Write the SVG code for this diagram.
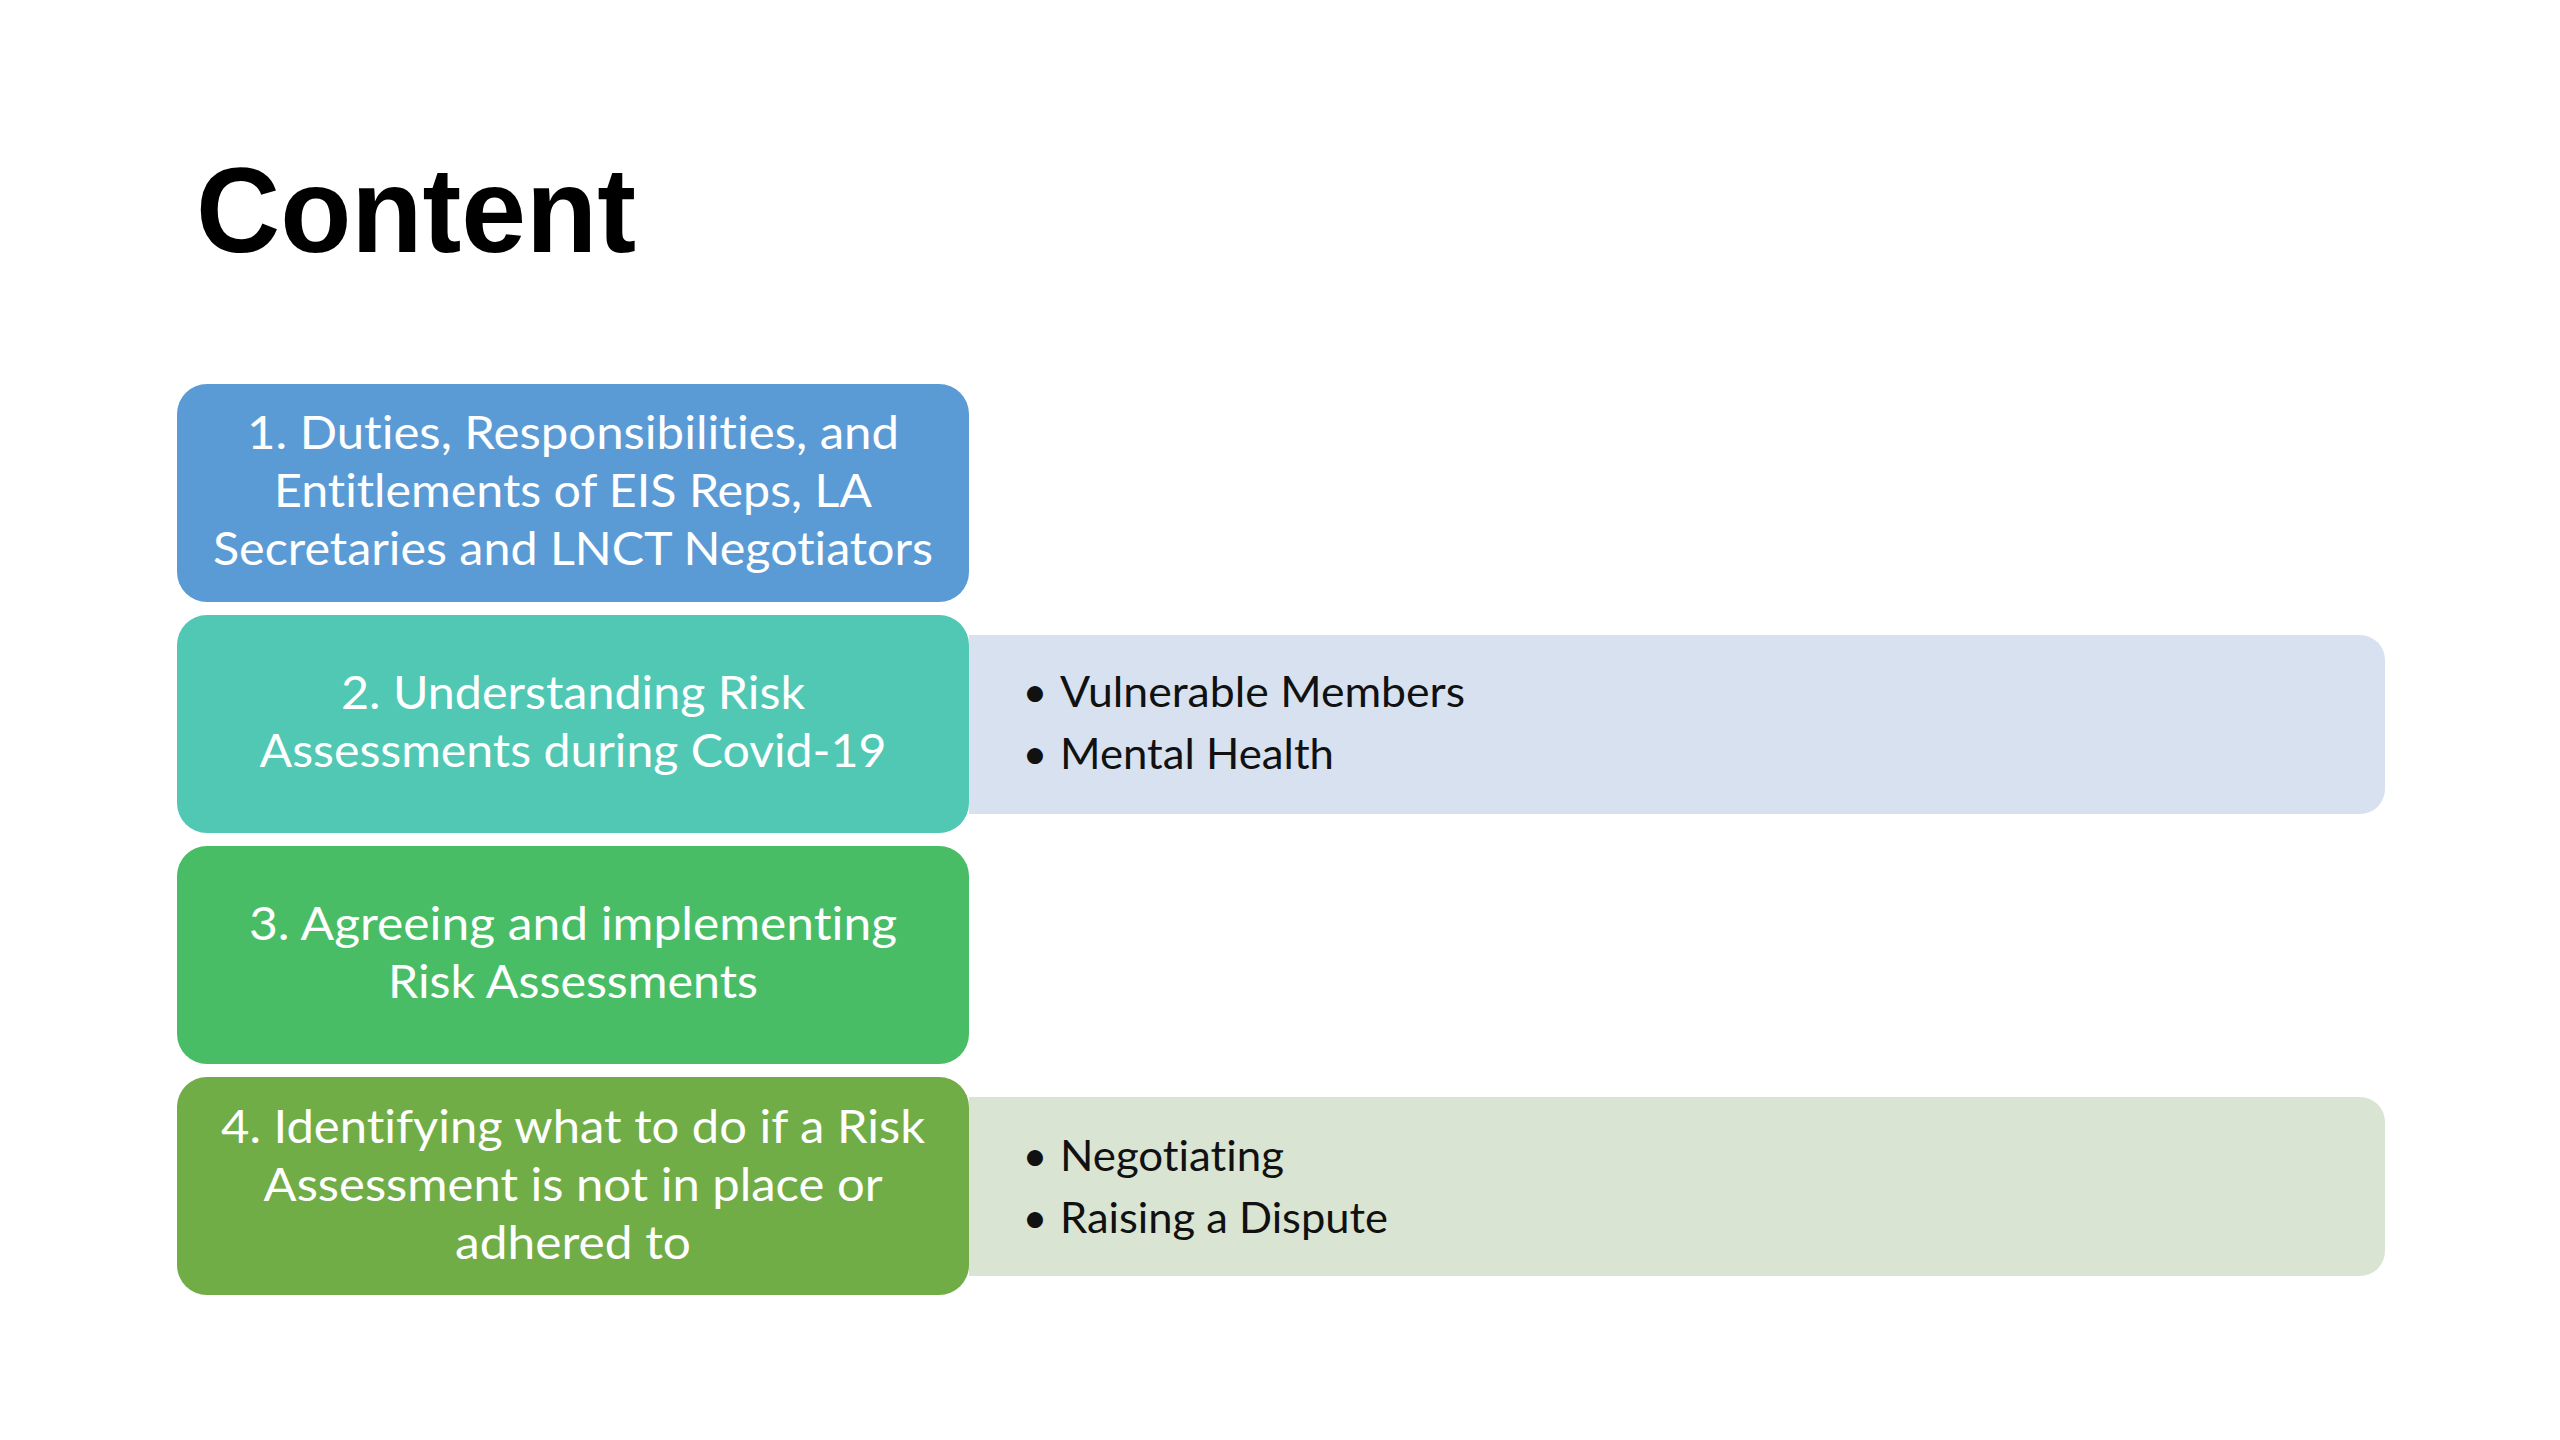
<svg xmlns="http://www.w3.org/2000/svg" width="2560" height="1440" viewBox="0 0 2560 1440">
  <style>
    text { font-variant-ligatures: none; font-feature-settings: "liga" 0, "clig" 0, "dlig" 0, "calt" 0; }
    .title { font-family: "Liberation Sans", Arial, sans-serif; font-weight: bold; font-size: 121px; fill: #000000; }
    .box-text { font-family: Lato, "Open Sans", sans-serif; font-size: 46px; fill: #ffffff; text-anchor: middle; }
    .panel-text { font-family: Lato, "Open Sans", sans-serif; font-size: 43px; fill: #111111; }
    .bullet { font-family: Lato, "Open Sans", sans-serif; font-size: 43px; fill: #111111; text-anchor: middle; }
  </style>
  <rect x="0" y="0" width="2560" height="1440" fill="#ffffff"/>

  <text class="title" x="196" y="252" textLength="440" lengthAdjust="spacingAndGlyphs">Content</text>

  <g id="connectors"></g>

  <g id="panel-2">
    <path d="M969 635 H2360 A25 25 0 0 1 2385 660 V789 A25 25 0 0 1 2360 814 H969 Z" fill="#d7e1ef"/>
    <text class="bullet" x="1035" y="707">•</text>
    <text class="panel-text" x="1060" y="707" textLength="405" lengthAdjust="spacingAndGlyphs">Vulnerable Members</text>
    <text class="bullet" x="1035" y="769">•</text>
    <text class="panel-text" x="1060" y="769" textLength="274" lengthAdjust="spacingAndGlyphs">Mental Health</text>
  </g>

  <g id="panel-4">
    <path d="M969 1097 H2360 A25 25 0 0 1 2385 1122 V1251 A25 25 0 0 1 2360 1276 H969 Z" fill="#d9e4d3"/>
    <text class="bullet" x="1035" y="1171">•</text>
    <text class="panel-text" x="1060" y="1171" textLength="224" lengthAdjust="spacingAndGlyphs">Negotiating</text>
    <text class="bullet" x="1035" y="1233">•</text>
    <text class="panel-text" x="1060" y="1233" textLength="328" lengthAdjust="spacingAndGlyphs">Raising a Dispute</text>
  </g>

  <g id="box-1">
    <rect x="177" y="384" width="792" height="218" rx="30" ry="30" fill="#5b9bd5"/>
    <text class="box-text" x="573" y="449" textLength="652" lengthAdjust="spacingAndGlyphs">1. Duties, Responsibilities, and</text>
    <text class="box-text" x="573" y="507" textLength="598" lengthAdjust="spacingAndGlyphs">Entitlements of EIS Reps, LA</text>
    <text class="box-text" x="573" y="565" textLength="720" lengthAdjust="spacingAndGlyphs">Secretaries and LNCT Negotiators</text>
  </g>

  <g id="box-2">
    <rect x="177" y="615" width="792" height="218" rx="30" ry="30" fill="#50c8b4"/>
    <text class="box-text" x="573" y="709" textLength="464" lengthAdjust="spacingAndGlyphs">2. Understanding Risk</text>
    <text class="box-text" x="573" y="767" textLength="627" lengthAdjust="spacingAndGlyphs">Assessments during Covid-19</text>
  </g>

  <g id="box-3">
    <rect x="177" y="846" width="792" height="218" rx="30" ry="30" fill="#48bd66"/>
    <text class="box-text" x="573" y="940" textLength="648" lengthAdjust="spacingAndGlyphs">3. Agreeing and implementing</text>
    <text class="box-text" x="573" y="998" textLength="370" lengthAdjust="spacingAndGlyphs">Risk Assessments</text>
  </g>

  <g id="box-4">
    <rect x="177" y="1077" width="792" height="218" rx="30" ry="30" fill="#70ad47"/>
    <text class="box-text" x="573" y="1143" textLength="704" lengthAdjust="spacingAndGlyphs">4. Identifying what to do if a Risk</text>
    <text class="box-text" x="573" y="1201" textLength="619" lengthAdjust="spacingAndGlyphs">Assessment is not in place or</text>
    <text class="box-text" x="573" y="1259" textLength="236" lengthAdjust="spacingAndGlyphs">adhered to</text>
  </g>
</svg>
